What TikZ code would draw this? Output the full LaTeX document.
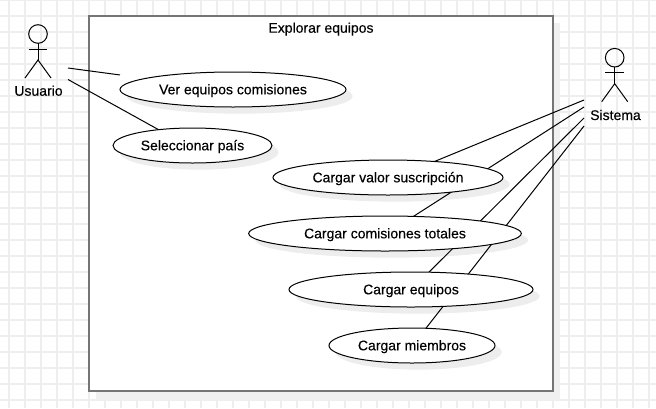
\documentclass[tikz,border=0pt]{standalone}
\usepackage{fontspec}
\setmainfont{Liberation Sans}[FakeBold=0.2]
\usetikzlibrary{shapes}
\usetikzlibrary{shadows}

\pgfdeclarelayer{back}
\pgfdeclarelayer{edges}
\pgfsetlayers{back,edges,main}

\definecolor{gridgray}{HTML}{EEEEEE}
\definecolor{framegray}{HTML}{757575}

\tikzset{
    usecase/.style={ellipse,draw=black,fill=white,line width=0.75pt,inner sep=0pt,outer sep=0pt,font=\fontsize{10.5}{12}\selectfont,
        text height=9.2pt,text depth=2pt,minimum height=26.25pt,drop shadow={shadow xshift=5pt,shadow yshift=-5pt,fill=black,opacity=0.07}},
    wire/.style={draw=black,line width=0.75pt},
    label/.style={anchor=base,inner sep=0.75pt,font=\fontsize{10.5}{12}\selectfont},
    pics/actorfig/.style={code={
        \draw[wire] (0,0) circle (9.3);
        \draw[wire] (0,9.3) -- (0,26);
        \draw[wire] (-9.3,15) -- (9.3,15);
        \draw[wire] (-13,44) -- (0,26) -- (13,44);
    }}
}

\begin{document}
\begin{tikzpicture}[x=0.75pt,y=0.75pt,yscale=-1,xscale=1]
    \useasboundingbox (0,0) rectangle (656,408);

    % Grid
    \begin{pgfonlayer}{back}
    \fill[white] (0,0) rectangle (656,408);
    \foreach \gx in {9,25,...,649} \draw[gridgray,line width=1.5pt] (\gx,0) -- (\gx,408);
    \foreach \gy in {0,16,...,400} \draw[gridgray,line width=1.5pt] (0,\gy) -- (656,\gy);
    % System boundary
    \fill[black!6] (96,23) rectangle (560,399.5);
    \draw (321,203.75) node [draw=framegray,fill=white,line width=1.5pt,outer sep=0pt,minimum width=348pt,minimum height=281.6pt] (marco) {};
    \end{pgfonlayer}

    % Text Node
    \draw (321,32.7) node [label] (titulo) {Explorar equipos};

    % Actors
    \pic[yscale=-1] (usuarioFig) at (38,34) {actorfig};
    \pic[yscale=-1] (sistemaFig) at (614.7,57.7) {actorfig};
    % Text Node
    \draw (38.5,95.7) node [label] (usuario) {Usuario};
    % Text Node
    \draw (615.5,120) node [label] (sistema) {Sistema};

    % Use cases
    \draw (233,89.5) node [usecase,minimum width=169.5pt] (ver) {Ver equipos comisiones};
    \draw (192.5,145.5) node [usecase,minimum width=119.25pt] (pais) {Seleccionar país};
    \draw (388,177.5) node [usecase,minimum width=172.5pt] (valor) {Cargar valor suscripción};
    \draw (385,233.5) node [usecase,minimum width=204.5pt] (comisiones) {Cargar comisiones totales};
    \draw (411,289.5) node [usecase,minimum width=183pt] (equipos) {Cargar equipos};
    \draw (412,345.5) node [usecase,minimum width=124.5pt] (miembros) {Cargar miembros};

    % Free ends next to the actors
    \coordinate (usuarioA) at (68,68);
    \coordinate (usuarioB) at (68,79.5);
    \coordinate (sistemaA) at (584,100);
    \coordinate (sistemaB) at (584,107);
    \coordinate (sistemaC) at (584,118);
    \coordinate (sistemaD) at (584,126);

    % Connectors
    \begin{pgfonlayer}{edges}
    \draw[wire] (usuarioA) -- ([yshift=-10.9pt]ver.west);
    \draw[wire] (usuarioB) -- (pais.155);
    \draw[wire] (sistemaA) -- (valor.19);
    \draw[wire] (sistemaB) -- (comisiones.31);
    \draw[wire] (sistemaC) -- (equipos.44);
    \draw[wire] (sistemaD) -- (miembros.51);
    \end{pgfonlayer}
\end{tikzpicture}
\end{document}
